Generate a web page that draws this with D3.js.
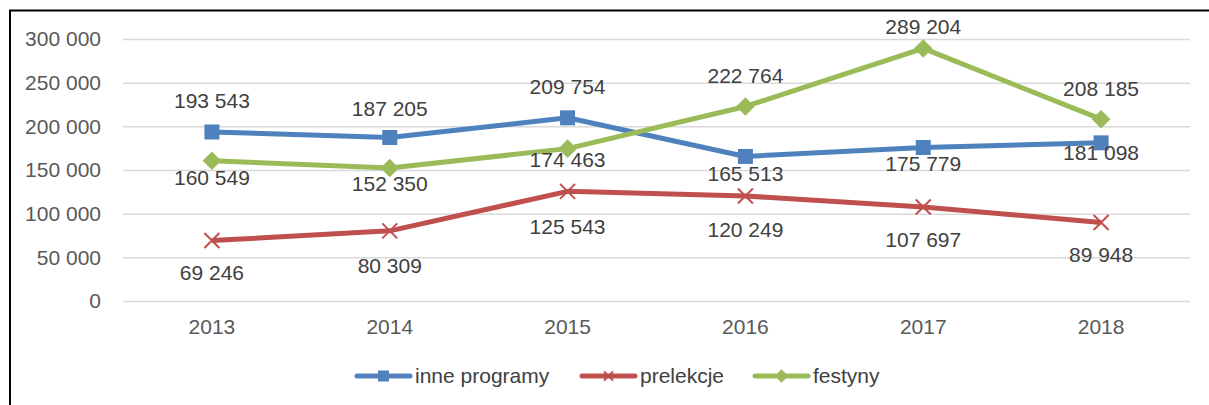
<!DOCTYPE html>
<html>
<head>
<meta charset="utf-8">
<script src="https://cdn.jsdelivr.net/npm/d3@7"></script>
<style>
  body { margin: 0; background: #fff; }
  svg { display: block; font-family: "Liberation Sans", Arial, sans-serif; }
</style>
</head>
<body>
<svg width="1209" height="405"></svg>
<script>
var years = ['2013', '2014', '2015', '2016', '2017', '2018'];
var innePrograms = [193543, 187205, 209754, 165513, 175779, 181098];
var prelekcje = [69246, 80309, 125543, 120249, 107697, 89948];
var festyny = [160549, 152350, 174463, 222764, 289204, 208185];
var yTicks = [0, 50000, 100000, 150000, 200000, 250000, 300000];

// label offsets (px from point), style only
var series = [
  { name: 'inne programy', values: innePrograms, color: '#4F81BD', marker: 'square',
    dy: [-31, -29, -31, 17, 16, 10] },
  { name: 'prelekcje', values: prelekcje, color: '#C0504D', marker: 'cross',
    dy: [32, 35, 35, 34, 33, 32] },
  { name: 'festyny', values: festyny, color: '#9BBB59', marker: 'diamond',
    dy: [17, 16, 11, -31, -22, -31] }
];

var svg = d3.select('svg');
var plotLeft = 123, plotRight = 1190, plotTop = 39, plotBottom = 301;
var fontSize = '21px';

// frame
svg.append('rect')
  .attr('x', 10).attr('y', 10.5)
  .attr('width', 1400).attr('height', 600)
  .attr('fill', 'none')
  .attr('stroke', '#000')
  .attr('stroke-width', 2);

var xScale = d3.scaleBand()
  .domain(years)
  .range([plotLeft, plotRight]);

var yScale = d3.scaleLinear()
  .domain([0, 300000])
  .range([plotBottom, plotTop]);

var fmt = function (v) {
  return d3.format(',')(v).replace(/,/g, ' ');
};

var yAxis = d3.axisLeft(yScale)
  .tickValues(yTicks)
  .tickSize(-(plotRight - plotLeft))
  .tickFormat(fmt);

var gy = svg.append('g')
  .attr('transform', 'translate(' + plotLeft + ',0)')
  .call(yAxis);
gy.select('.domain').remove();
gy.selectAll('line').attr('stroke', '#D9D9D9').attr('stroke-width', 1.5);
gy.selectAll('text')
  .attr('x', -22)
  .attr('fill', '#595959')
  .style('font-size', fontSize)
  .style('font-family', '"Liberation Sans", Arial, sans-serif');

var xAxis = d3.axisBottom(xScale).tickSize(0);
var gx = svg.append('g')
  .attr('transform', 'translate(0,' + plotBottom + ')')
  .call(xAxis);
gx.select('.domain').remove();
gx.selectAll('text')
  .attr('dy', '0.35em')
  .attr('y', 26)
  .attr('fill', '#595959')
  .style('font-size', fontSize)
  .style('font-family', '"Liberation Sans", Arial, sans-serif');

var cx = function (i) { return xScale(years[i]) + xScale.bandwidth() / 2; };

function drawMarker(g, type, color, size) {
  if (type === 'square') {
    g.append('rect')
      .attr('x', -size / 2).attr('y', -size / 2)
      .attr('width', size).attr('height', size)
      .attr('fill', color);
  } else if (type === 'diamond') {
    var s = size * 0.62;
    g.append('path')
      .attr('d', 'M0,' + (-s) + 'L' + s + ',0L0,' + s + 'L' + (-s) + ',0Z')
      .attr('fill', color);
  } else {
    var c = size / 2;
    g.append('path')
      .attr('d', 'M' + (-c) + ',' + (-c) + 'L' + c + ',' + c + 'M' + c + ',' + (-c) + 'L' + (-c) + ',' + c)
      .attr('stroke', color)
      .attr('stroke-width', 2)
      .attr('fill', 'none');
  }
}

var line = d3.line()
  .x(function (d, i) { return cx(i); })
  .y(function (d) { return yScale(d); });

series.forEach(function (s) {
  svg.append('path')
    .datum(s.values)
    .attr('d', line)
    .attr('fill', 'none')
    .attr('stroke', s.color)
    .attr('stroke-width', 5)
    .attr('stroke-linejoin', 'round');
});

series.forEach(function (s) {
  s.values.forEach(function (v, i) {
    var g = svg.append('g')
      .attr('transform', 'translate(' + cx(i) + ',' + yScale(v) + ')');
    drawMarker(g, s.marker, s.color, 15);
  });
});

series.forEach(function (s) {
  svg.append('g')
    .selectAll('text')
    .data(s.values)
    .enter()
    .append('text')
    .attr('x', function (d, i) { return cx(i); })
    .attr('y', function (d, i) { return yScale(d) + s.dy[i]; })
    .attr('dy', '0.35em')
    .attr('text-anchor', 'middle')
    .attr('fill', '#404040')
    .style('font-size', fontSize)
    .text(fmt);
});

// legend
var legendX = [355, 580, 753];
series.forEach(function (s, i) {
  var g = svg.append('g')
    .attr('transform', 'translate(' + legendX[i] + ',376)');
  g.append('line')
    .attr('x1', 2).attr('x2', 55)
    .attr('stroke', s.color)
    .attr('stroke-width', 5)
    .attr('stroke-linecap', 'round');
  var m = g.append('g').attr('transform', 'translate(28.5,0)');
  drawMarker(m, s.marker, s.color, s.marker === 'cross' ? 9 : 11);
  g.append('text')
    .attr('x', 60)
    .attr('dy', '0.35em')
    .attr('fill', '#404040')
    .style('font-size', fontSize)
    .text(s.name);
});
</script>
</body>
</html>
